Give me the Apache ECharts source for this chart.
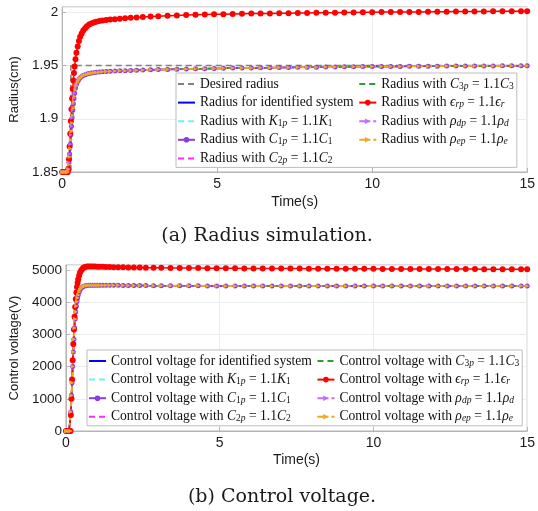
<!DOCTYPE html>
<html><head><meta charset="utf-8">
<script src="https://cdn.jsdelivr.net/npm/echarts@6/dist/echarts.min.js"></script>
<style>html,body{margin:0;padding:0;background:#fff}#c{width:538px;height:511px}</style>
</head><body><div id="c"></div>
<script>
// ---------------- data ----------------
const timeS = [0, 0.05, 0.1, 0.15, 0.16, 0.18, 0.2,
  0.22, 0.24, 0.26, 0.28, 0.3, 0.32, 0.34, 0.36, 0.38, 0.4,
  0.43, 0.46, 0.5, 0.54, 0.58, 0.63, 0.68, 0.74, 0.8, 0.87, 0.94, 1.02, 1.1, 1.2, 1.3, 1.42, 1.55, 1.7, 1.86, 2.03, 2.21, 2.4, 2.6, 2.85, 3.1, 3.4,
  3.7, 4.0, 4.3, 4.6, 4.9, 5.2, 5.5, 5.8, 6.1, 6.4, 6.7, 7.0, 7.3, 7.6, 7.9, 8.2, 8.5, 8.8, 9.1, 9.4, 9.7, 10.0,
  10.3, 10.6, 10.9, 11.2, 11.5, 11.8, 12.1, 12.4, 12.7, 13.0, 13.3, 13.6, 13.9, 14.2, 14.5, 14.8, 15.0];

const desiredTime = [0, 0.28, 0.28, 15];
const desiredRadius = [1.85, 1.85, 1.95, 1.95];

const radiusNominal = [1.85, 1.85, 1.85, 1.85, 1.85, 1.85, 1.852,
  1.857, 1.864, 1.872, 1.880, 1.888, 1.896, 1.903, 1.910, 1.916, 1.921,
  1.927, 1.931, 1.934, 1.9365, 1.938, 1.9393, 1.9403, 1.9412, 1.9418, 1.9424, 1.9428, 1.9432, 1.9435, 1.9438, 1.9441, 1.9443, 1.9446, 1.9448, 1.945, 1.9452, 1.9454, 1.9456, 1.9458, 1.946, 1.9462, 1.9464,
  1.9466, 1.9468, 1.947, 1.9471, 1.9473, 1.9474, 1.9476, 1.9477, 1.9478, 1.9479, 1.948, 1.9481, 1.9482, 1.9483, 1.9484, 1.9485, 1.9486, 1.9487, 1.9488, 1.9489, 1.949, 1.949,
  1.9491, 1.9492, 1.9492, 1.9493, 1.9493, 1.9494, 1.9494, 1.9495, 1.9495, 1.9495, 1.9496, 1.9496, 1.9496, 1.9497, 1.9497, 1.9497, 1.9497];

const radiusC1 = [1.85, 1.85, 1.85, 1.85, 1.85, 1.85, 1.853,
  1.859, 1.867, 1.876, 1.885, 1.893, 1.901, 1.908, 1.914, 1.919, 1.924,
  1.929, 1.9325, 1.935, 1.937, 1.9385, 1.9397, 1.9406, 1.9414, 1.942, 1.9425, 1.9429, 1.9433, 1.9436, 1.9439, 1.9441, 1.9444, 1.9446, 1.9448, 1.945, 1.9452, 1.9454, 1.9456, 1.9458, 1.946, 1.9462, 1.9464,
  1.9466, 1.9468, 1.947, 1.9471, 1.9473, 1.9474, 1.9476, 1.9477, 1.9478, 1.9479, 1.948, 1.9481, 1.9482, 1.9483, 1.9484, 1.9485, 1.9486, 1.9487, 1.9488, 1.9489, 1.949, 1.949,
  1.9491, 1.9492, 1.9492, 1.9493, 1.9493, 1.9494, 1.9494, 1.9495, 1.9495, 1.9495, 1.9496, 1.9496, 1.9496, 1.9497, 1.9497, 1.9497, 1.9497];

const radiusEps = [1.85, 1.85, 1.85, 1.85, 1.85, 1.85, 1.853,
  1.862, 1.874, 1.886, 1.898, 1.909, 1.919, 1.928, 1.936, 1.943, 1.949,
  1.956, 1.962, 1.968, 1.973, 1.977, 1.980, 1.983, 1.985, 1.987, 1.9885, 1.9895, 1.9905, 1.9912, 1.9918, 1.9923, 1.9928, 1.9932, 1.9936, 1.994, 1.9944, 1.9948, 1.9952, 1.9956, 1.996, 1.9964, 1.9968,
  1.9971, 1.9974, 1.9977, 1.9979, 1.9981, 1.9983, 1.9985, 1.9987, 1.9988, 1.9989, 1.999, 1.9991, 1.9992, 1.9993, 1.9994, 1.9995, 1.9996, 1.9997, 1.9998, 1.9999, 2.0, 2.0001,
  2.0002, 2.0002, 2.0003, 2.0004, 2.0004, 2.0005, 2.0006, 2.0006, 2.0007, 2.0007, 2.0008, 2.0008, 2.0009, 2.0009, 2.001, 2.001, 2.001];

const voltageNominal = [0, 0, 0, 0, 600, 1100, 1500,
  2000, 2450, 2850, 3200, 3480, 3700, 3880, 4020, 4130, 4220,
  4320, 4390, 4440, 4475, 4495, 4510, 4520, 4525, 4528, 4530, 4530, 4530, 4529, 4528, 4527, 4526, 4525, 4523, 4522, 4520, 4518, 4517, 4515, 4513, 4512, 4510,
  4509, 4508, 4507, 4506, 4506, 4505, 4505, 4504, 4504, 4503, 4503, 4503, 4502, 4502, 4502, 4502, 4501, 4501, 4501, 4501, 4501, 4500,
  4500, 4500, 4500, 4500, 4500, 4500, 4500, 4500, 4500, 4500, 4500, 4500, 4500, 4500, 4500, 4500, 4500];

const voltageEps = [0, 0, 0, 0, 500, 1000, 1600,
  2200, 2700, 3150, 3550, 3850, 4100, 4300, 4470, 4600, 4710,
  4830, 4920, 4990, 5040, 5075, 5095, 5105, 5110, 5110, 5108, 5106, 5104, 5101, 5098, 5095, 5092, 5089, 5086, 5083, 5080, 5077, 5075, 5073, 5071, 5068, 5065,
  5063, 5061, 5059, 5057, 5055, 5053, 5051, 5050, 5048, 5047, 5046, 5045, 5044, 5043, 5042, 5041, 5040, 5039, 5038, 5037, 5036, 5035,
  5034, 5033, 5032, 5031, 5031, 5030, 5029, 5029, 5028, 5027, 5027, 5026, 5026, 5025, 5025, 5025, 5025];

const radiusTicks = [1.85, 2.005, 0.05];
const voltageTicks = [0, 5155, 1000];
const timeTicks = [0, 15, 5];

const radiusLegendKeys = ['desired', 'ident', 'K1', 'C1', 'C2', 'C3', 'eps', 'rhod', 'rhoe'];
const radiusLegendLabels = [
  'Desired radius',
  'Radius for identified system',
  'Radius with {i|K}{s|1}{si|p} = 1.1{i|K}{s|1}',
  'Radius with {i|C}{s|1}{si|p} = 1.1{i|C}{s|1}',
  'Radius with {i|C}{s|2}{si|p} = 1.1{i|C}{s|2}',
  'Radius with {i|C}{s|3}{si|p} = 1.1{i|C}{s|3}',
  'Radius with {i|\u03F5}{si|rp} = 1.1{i|\u03F5}{si|r}',
  'Radius with {i|\u03C1}{si|dp} = 1.1{i|\u03C1}{si|d}',
  'Radius with {i|\u03C1}{si|ep} = 1.1{i|\u03C1}{si|e}'
];
const voltageLegendKeys = ['ident', 'K1', 'C1', 'C2', 'C3', 'eps', 'rhod', 'rhoe'];
const voltageLegendLabels = [
  'Control voltage for identified system',
  'Control voltage with {i|K}{s|1}{si|p} = 1.1{i|K}{s|1}',
  'Control voltage with {i|C}{s|1}{si|p} = 1.1{i|C}{s|1}',
  'Control voltage with {i|C}{s|2}{si|p} = 1.1{i|C}{s|2}',
  'Control voltage with {i|C}{s|3}{si|p} = 1.1{i|C}{s|3}',
  'Control voltage with {i|\u03F5}{si|rp} = 1.1{i|\u03F5}{si|r}',
  'Control voltage with {i|\u03C1}{si|dp} = 1.1{i|\u03C1}{si|d}',
  'Control voltage with {i|\u03C1}{si|ep} = 1.1{i|\u03C1}{si|e}'
];

// ---------------- styles ----------------
const styles = {
  desired: {color: '#808080', type: [6, 4], width: 1.5, symbol: 'none'},
  ident:   {color: '#0000ff', type: 'solid', width: 1.5, symbol: 'none'},
  K1:      {color: '#6ff2f7', type: [6, 4], width: 1.5, symbol: 'none'},
  C1:      {color: '#8a3de0', type: 'solid', width: 1.5, symbol: 'circle', size: 5},
  C2:      {color: '#ff2bff', type: [6, 4], width: 1.5, symbol: 'none'},
  C3:      {color: '#2e9e2e', type: [6, 4], width: 1.5, symbol: 'none'},
  eps:     {color: '#ff0000', type: 'solid', width: 1.5, symbol: 'circle', size: 6},
  rhod:    {color: '#c46cff', type: [6, 3, 2, 3], width: 1.5, symbol: 'triangle', size: 4, rotate: -90},
  rhoe:    {color: '#f0a81e', type: [6, 3, 2, 3], width: 2, symbol: 'triangle', size: 4, rotate: -90}
};

function pairs(xs, ys) { return xs.map((x, i) => [x, ys[i]]); }

const radiusData = {
  desired: pairs(desiredTime, desiredRadius),
  ident: pairs(timeS, radiusNominal), K1: pairs(timeS, radiusNominal), C1: pairs(timeS, radiusC1),
  C2: pairs(timeS, radiusNominal), C3: pairs(timeS, radiusNominal), eps: pairs(timeS, radiusEps),
  rhod: pairs(timeS, radiusC1), rhoe: pairs(timeS, radiusNominal)
};
const voltageData = {
  ident: pairs(timeS, voltageNominal), K1: pairs(timeS, voltageNominal), C1: pairs(timeS, voltageNominal),
  C2: pairs(timeS, voltageNominal), C3: pairs(timeS, voltageNominal), eps: pairs(timeS, voltageEps),
  rhod: pairs(timeS, voltageNominal), rhoe: pairs(timeS, voltageNominal)
};

function makeSeries(prefix, key, data, idx) {
  const s = styles[key];
  return {
    name: prefix + key, type: 'line', xAxisIndex: idx, yAxisIndex: idx,
    data: data, showSymbol: s.symbol !== 'none', symbol: s.symbol === 'none' ? 'circle' : s.symbol,
    symbolSize: s.size || 0, symbolRotate: s.rotate || 0, animation: false, silent: true,
    itemStyle: {color: s.color}, lineStyle: {color: s.color, width: s.width, type: s.type},
    clip: true
  };
}

const series = [];
radiusLegendKeys.forEach(k => series.push(makeSeries('r_', k, radiusData[k], 0)));
voltageLegendKeys.forEach(k => series.push(makeSeries('v_', k, voltageData[k], 1)));

const serif = 'Liberation Serif';
const sans = 'Liberation Sans';
const legendText = {
  fontFamily: serif, fontSize: 13.6, color: '#111', lineHeight: 14,
  rich: {
    i: {fontFamily: serif, fontStyle: 'italic', fontSize: 13.6, lineHeight: 14, color: '#111'},
    s: {fontFamily: serif, fontSize: 9.5, lineHeight: 7, verticalAlign: 'bottom', color: '#111'},
    si: {fontFamily: serif, fontStyle: 'italic', fontSize: 9.5, lineHeight: 7, verticalAlign: 'bottom', color: '#111'}
  }
};
function legendItems(prefix, keys) {
  return keys.map(k => styles[k].symbol === 'none'
    ? {name: prefix + k, itemStyle: {color: 'rgba(0,0,0,0)', borderWidth: 0, borderColor: 'rgba(0,0,0,0)'}}
    : {name: prefix + k});
}
function legendOpt(prefix, keys, labels, left, top, height) {
  return {
    orient: 'vertical', left: left, top: top, height: height,
    data: legendItems(prefix, keys),
    formatter: name => labels[keys.indexOf(name.slice(2))],
    itemWidth: 17, itemHeight: 7, itemGap: 4.6,
    textStyle: legendText, padding: [4, 3, 2, 1],
    borderColor: '#bdbdbd', borderWidth: 1, backgroundColor: '#fff',
    selectedMode: false, borderRadius: 0
  };
}

const axisColor = '#b5b5b5';
function xAxisOpt(idx, gap) {
  return {
    gridIndex: idx, type: 'value', min: timeTicks[0], max: timeTicks[1], interval: timeTicks[2],
    axisLine: {show: true, lineStyle: {color: axisColor}},
    axisTick: {show: true, inside: true, length: 4, lineStyle: {color: axisColor}},
    axisLabel: {color: '#1a1a1a', fontSize: 14, fontFamily: sans, margin: 5, formatter: v => String(v)},
    splitLine: {show: true, lineStyle: {color: '#ececec'}},
    name: 'Time(s)', nameLocation: 'middle', nameGap: gap,
    nameTextStyle: {color: '#1a1a1a', fontSize: 14, fontFamily: sans}
  };
}
function yAxisOpt(idx, ticks, name, gap) {
  return {
    gridIndex: idx, type: 'value', min: ticks[0], max: ticks[1], interval: ticks[2],
    axisLine: {show: true, lineStyle: {color: axisColor}},
    axisTick: {show: true, inside: true, length: 4, lineStyle: {color: axisColor}},
    axisLabel: {color: '#1a1a1a', fontSize: 13.5, fontFamily: sans, margin: 4, showMaxLabel: false, formatter: v => String(v)},
    splitLine: {show: true, lineStyle: {color: '#ececec'}},
    name: name, nameLocation: 'middle', nameGap: gap, nameRotate: 90,
    nameTextStyle: {color: '#1a1a1a', fontSize: 13, fontFamily: sans}
  };
}

const chart = echarts.init(document.getElementById('c'), null, {renderer: 'canvas'});
chart.setOption({
  animation: false,
  backgroundColor: '#fff',
  grid: [
    {left: 54, top: 7, width: 477, height: 165, show: true, borderColor: axisColor, borderWidth: 1, containLabel: false},
    {left: 58, top: 265, width: 473, height: 166, show: true, borderColor: axisColor, borderWidth: 1, containLabel: false}
  ],
  xAxis: [xAxisOpt(0, 23), xAxisOpt(1, 22)],
  yAxis: [yAxisOpt(0, radiusTicks, 'Radius(cm)', 32), yAxisOpt(1, voltageTicks, 'Control voltage(V)', 36)],
  legend: [
    legendOpt('r_', radiusLegendKeys, radiusLegendLabels, 176, 73, 90),
    legendOpt('v_', voltageLegendKeys, voltageLegendLabels, 87, 350, 72)
  ],
  graphic: [
    {type: 'text', x: 267, y: 236, style: {text: '(a) Radius simulation.', fill: '#1a1a1a', font: '19px "DejaVu Serif"', align: 'center', verticalAlign: 'middle', textAlign: 'center', textVerticalAlign: 'middle'}},
    {type: 'text', x: 282, y: 497, style: {text: '(b) Control voltage.', fill: '#1a1a1a', font: '19px "DejaVu Serif"', align: 'center', verticalAlign: 'middle', textAlign: 'center', textVerticalAlign: 'middle'}}
  ],
  series: series
});
</script>
</body></html>
